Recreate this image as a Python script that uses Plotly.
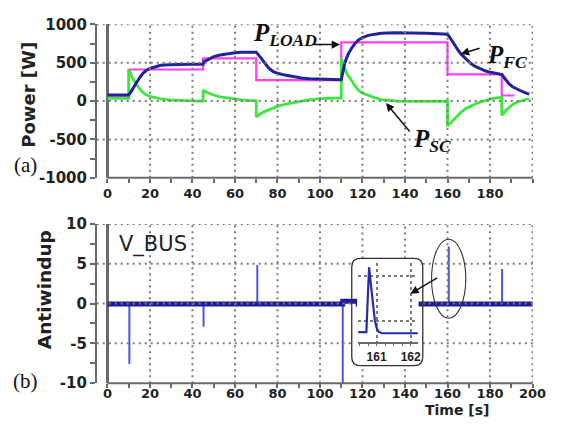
import plotly.graph_objects as go

# ---------------- data ----------------
fc_t = [0, 10, 11, 12, 13.3, 15, 16.7, 18, 20, 22, 25, 29, 33, 40, 45, 45.5, 47, 50, 53, 56.7,
        60, 63, 66.7, 70, 72, 73.5, 75.9, 78, 80, 83.5, 87, 91.2, 95, 98.9, 104, 110, 110.8,
        111.6, 112.5, 113.5, 115, 116.5, 118.1, 120, 122.7, 125.5, 128.8, 135, 144.2, 150,
        157.9, 160, 161, 162, 163.3, 164.8, 166.4, 168.5, 171, 173, 175.6, 178, 180.2, 182.5,
        184.8, 185.7, 186.5, 187.7, 189, 190.8, 193, 195.4, 197, 198.5]
fc_p = [79, 79, 120, 165, 237, 300, 362, 395, 425, 445, 467, 475, 479, 480, 480, 515, 535,
        579, 600, 620, 630, 636, 641, 638, 570, 510, 428, 385, 362, 339, 318, 302, 292, 286,
        280, 278, 380, 490, 560, 625, 694, 752, 796, 828, 857, 873, 885, 890, 890, 885, 873,
        870, 835, 790, 734, 670, 612, 550, 490, 452, 416, 392, 375, 363, 355, 345, 310, 265,
        225, 184, 150, 122, 104, 90]

load_t = [0, 10, 45, 70, 110, 160, 185.5, 191.5]
load_p = [70, 412, 558, 274, 765, 347, 73, 73]

sc_t = [0, 10, 10, 11, 12, 13.3, 15, 16.7, 18, 20, 22, 25, 29, 33, 40, 45, 45, 46.5, 48, 50,
        53, 56.7, 60, 63, 66.7, 70, 70, 71.5, 73.5, 75.9, 78, 80, 83.5, 87, 91.2, 95, 98.9,
        104, 110, 110, 111, 112, 113, 114, 116, 118, 120, 122.7, 125.5, 128.8, 132, 136.5,
        145, 152, 160, 160, 161.5, 163.3, 164.8, 166.4, 168.5, 171, 173, 175.6, 178, 180.2,
        182.5, 184.8, 185.5, 185.5, 186.5, 187.7, 189, 190.8, 193, 195.4, 197, 198.5]
sc_p = [35, 35, 412, 350, 290, 237, 165, 112, 85, 62, 45, 29, 15, 8, 3, 0, 141, 115, 95, 79,
        55, 37, 24, 15, 8, 4, -204, -175, -140, -114, -85, -68, -41, -20, 0, 15, 29, 37, 41,
        551, 470, 400, 340, 306, 220, 143, 105, 73, 45, 20, 8, 0, -3, -3, -2, -326, -280, -224,
        -180, -143, -100, -61, -38, -12, 10, 29, 40, 49, 49, -184, -160, -114, -80, -41, -12,
        8, 20, 33]

aw_spike_t = [10.3, 45.2, 70.5, 110.7, 160.6, 185.7]
aw_spike_v = [-7.6, -2.9, 4.85, -10, 7.15, 4.35]
aw_base_t = [0, 110.7, 110.7, 118, 118, 200]
aw_base_v = [-0.05, -0.05, 0.3, 0.3, -0.05, -0.05]

inset_t = [160.46, 160.70, 160.74, 160.78, 160.82, 160.86, 160.90, 160.95, 161.00, 161.05,
           161.15, 161.4, 161.8, 162.21]
inset_v = [0, 0, 3.0, 5.8, 4.6, 3.3, 2.0, 1.0, 0.4, 0.05, -0.1, -0.1, -0.1, -0.1]

x_ticks = [0, 20, 40, 60, 80, 100, 120, 140, 160, 180, 200]
top_x_labels = ['0', '20', '40', '60', '80', '100', '120', '140', '160', '180', '']
bot_x_labels = ['0', '20', '40', '60', '80', '100', '120', '140', '160', '180', '200']
top_y_ticks = [-1000, -500, 0, 500, 1000]
top_y_labels = ['-1000', '-500', '0', '500', '1000']
bot_y_ticks = [-10, -5, 0, 5, 10]
bot_y_labels = ['-10', '-5', '0', '5', '10']
inset_x_ticks = [161, 162]
inset_x_labels = ['161', '162']

# ---------------- layout helpers ----------------
W, H = 567, 444
def px(x):
    return x / W
def py(y):
    return 1 - y / H

GRID = '#7a7a7a'
AX = '#6a6a6a'
TXT = '#222222'
DOT = 'dot'

# panel geometry (pixels)
PL, PR = 99, 545.5            # plot area left/right
X0PX, XPXU = 110, 2.175       # pixel of t=0, pixels per second
TOP_T, TOP_B = 16, 176
BOT_T, BOT_B = 224, 390
BOX = (360, 432.7, 260, 371.7)  # inset box x0, x1, y0, y1

fig = go.Figure()

# top plot traces
fig.add_trace(go.Scatter(x=load_t, y=load_p, mode='lines', line=dict(color='#ff3cff', width=2.2, shape='hv'),
                         xaxis='x', yaxis='y', showlegend=False))
fig.add_trace(go.Scatter(x=sc_t, y=sc_p, mode='lines', line=dict(color='#3ce83c', width=2.8),
                         xaxis='x', yaxis='y', showlegend=False))
fig.add_trace(go.Scatter(x=fc_t, y=fc_p, mode='lines', line=dict(color='#22229a', width=3),
                         xaxis='x', yaxis='y', showlegend=False))

# bottom plot traces
sx, sy = [], []
for t, v in zip(aw_spike_t, aw_spike_v):
    sx += [t, t, None]
    sy += [0, v, None]
fig.add_trace(go.Scatter(x=sx, y=sy, mode='lines', line=dict(color='#4a58d6', width=2),
                         xaxis='x2', yaxis='y2', showlegend=False))
fig.add_trace(go.Scatter(x=aw_base_t, y=aw_base_v, mode='lines', line=dict(color='#1c1ca0', width=5),
                         xaxis='x2', yaxis='y2', showlegend=False))

# mask subplot (white background of inset box)
fig.add_trace(go.Scatter(x=[None], y=[None], mode='lines', xaxis='x3', yaxis='y3', showlegend=False))
# inset plot
fig.add_trace(go.Scatter(x=inset_t, y=inset_v, mode='lines', line=dict(color='#2a2aa8', width=2.2),
                         xaxis='x4', yaxis='y4', showlegend=False))

xdom = [px(PL), px(PR)]
xrng = [(PL - X0PX) / XPXU, (PR - X0PX) / XPXU]
tickfont_x = dict(family='DejaVu Sans', size=13, weight='bold', color=TXT)
tickfont_y = dict(family='DejaVu Sans', size=15, weight='bold', color=TXT)

common_x = dict(domain=xdom, range=xrng, tickmode='array', tickvals=x_ticks,
                ticks='outside', ticklen=4, tickwidth=1.5, tickcolor=AX,
                showgrid=False,
                zeroline=True, zerolinecolor=AX, zerolinewidth=2.5, showline=False,
                tickfont=tickfont_x,
                minor=dict(dtick=10, tick0=0, ticks='outside', ticklen=4, tickwidth=1.5, tickcolor=AX, showgrid=False))
common_y = dict(ticks='outside', ticklen=5, tickwidth=1.5, tickcolor=AX,
                showgrid=False,
                zeroline=False, showline=True, linecolor=AX, linewidth=1.5,
                tickfont=tickfont_y, tickmode='array')

fig.update_layout(
    width=W, height=H, autosize=False,
    margin=dict(l=0, r=0, t=0, b=0),
    paper_bgcolor='white', plot_bgcolor='white',
    font=dict(family='DejaVu Sans', color=TXT),
    xaxis=dict(common_x, anchor='y', ticktext=top_x_labels, ticklabelstandoff=0),
    yaxis=dict(common_y, domain=[py(TOP_B), py(TOP_T)], range=[-1000, 1000], anchor='x',
               tickvals=top_y_ticks, ticktext=top_y_labels,
               minor=dict(dtick=250, tick0=0, ticks='outside', ticklen=5,
                          tickwidth=1.5, tickcolor=AX, showgrid=False)),
    xaxis2=dict(common_x, anchor='y2', ticktext=bot_x_labels, ticklabelstandoff=-6),
    yaxis2=dict(common_y, domain=[py(BOT_B), py(BOT_T)], range=[-10, 10], anchor='x2',
                tickvals=bot_y_ticks, ticktext=bot_y_labels,
                minor=dict(dtick=2.5, tick0=0, ticks='outside', ticklen=5,
                           tickwidth=1.5, tickcolor=AX, showgrid=False)),
    xaxis3=dict(domain=[px(365.5), px(428)], range=[0, 1], visible=False, anchor='y3'),
    yaxis3=dict(domain=[py(370), py(262)], range=[0, 1], visible=False, anchor='x3'),
    xaxis4=dict(domain=[px(366.5), px(428.3)], range=[160.457, 162.229], anchor='y4',
                tickmode='array', tickvals=inset_x_ticks, ticktext=inset_x_labels,
                ticks='outside', ticklen=3, tickcolor=AX, tickwidth=1,
                showline=True, linecolor=AX, linewidth=1.5,
                showgrid=True, gridcolor=GRID, gridwidth=1.5, griddash=DOT, zeroline=False,
                tickfont=dict(family='Liberation Sans', size=12, weight='bold', color=TXT),
                minor=dict(dtick=0.25, tick0=161, ticks='outside', ticklen=3, tickcolor=AX, showgrid=False)),
    yaxis4=dict(domain=[py(346.7), py(265)], range=[-0.85, 6.15], anchor='x4',
                tickmode='array', tickvals=[1, 5], showticklabels=False, ticks='',
                showgrid=True, gridcolor=GRID, gridwidth=1.5, griddash=DOT, zeroline=False, showline=False),
)

shapes = []
# dotted grid lines of the two main panels at the axis tick values (kept off the inset box)
grid_line = dict(color=GRID, width=2, dash='2px,4px')
bx0, bx1, by0, by1 = BOX
box_t0, box_t1 = (bx0 - X0PX) / XPXU, (bx1 - X0PX) / XPXU
def xdomf(p):
    return (p - PL) / (PR - PL)
for xr, yr, yt, ptop, pbot, has_box in [('x', 'y', top_y_ticks, TOP_T, TOP_B, False),
                                        ('x2', 'y2', bot_y_ticks, BOT_T, BOT_B, True)]:
    def ydomf(p):
        return (pbot - p) / (pbot - ptop)
    for t in x_ticks[1:]:
        segs = [(0, 1)]
        if has_box and box_t0 < t < box_t1:
            segs = [(0, ydomf(by1)), (ydomf(by0), 1)]
        for a, b in segs:
            shapes.append(dict(type='line', xref=xr, yref=yr + ' domain', x0=t, x1=t, y0=a, y1=b,
                               line=grid_line, layer='above'))
    yr_lo, yr_hi = yt[0], yt[-1]
    for v in yt[1:]:
        vpx = pbot - (v - yr_lo) / (yr_hi - yr_lo) * (pbot - ptop)
        segs = [(0, 1)]
        if has_box and by0 < vpx < by1:
            segs = [(0, xdomf(bx0)), (xdomf(bx1), 1)]
        for a, b in segs:
            shapes.append(dict(type='line', xref=xr + ' domain', yref=yr, x0=a, x1=b, y0=v, y1=v,
                               line=grid_line, layer='above'))
# x axis base lines (from t=0 to t=200)
for xr, yr in [('x', 'y domain'), ('x2', 'y2 domain')]:
    shapes.append(dict(type='line', xref=xr, yref=yr, x0=x_ticks[0], x1=x_ticks[-1], y0=0, y1=0,
                       line=dict(color=AX, width=2), layer='above'))
# rounded inset box
x0, x1, y0, y1, r = bx0, bx1, by0, by1, 9
path = (f"M {px(x0 + r)},{py(y0)} L {px(x1 - r)},{py(y0)} Q {px(x1)},{py(y0)} {px(x1)},{py(y0 + r)} "
        f"L {px(x1)},{py(y1 - r)} Q {px(x1)},{py(y1)} {px(x1 - r)},{py(y1)} "
        f"L {px(x0 + r)},{py(y1)} Q {px(x0)},{py(y1)} {px(x0)},{py(y1 - r)} "
        f"L {px(x0)},{py(y0 + r)} Q {px(x0)},{py(y0)} {px(x0 + r)},{py(y0)} Z")
shapes.append(dict(type='path', xref='paper', yref='paper', path=path,
                   line=dict(color='#333333', width=1.3), layer='above'))
# ellipse
shapes.append(dict(type='circle', xref='paper', yref='paper', x0=px(441.7), x1=px(476.7),
                   y0=py(322.3), y1=py(240), line=dict(color='#333333', width=1.1), layer='above'))
fig.update_layout(shapes=shapes)

ann = []
def text(x, y, s, font, xanchor='center', yanchor='middle', angle=0):
    ann.append(dict(x=px(x), y=py(y), xref='paper', yref='paper', text=s, showarrow=False,
                    xanchor=xanchor, yanchor=yanchor, textangle=angle, font=font))
def arrow(hx, hy, tx, ty):
    ann.append(dict(x=px(hx), y=py(hy), xref='paper', yref='paper', text='', showarrow=True,
                    ax=tx - hx, ay=ty - hy, arrowhead=2, arrowsize=1.1, arrowwidth=1.5,
                    arrowcolor='#111111', standoff=0, startstandoff=0))

serif_bi = dict(family='Liberation Serif', size=25, weight='bold', style='italic', color='#111111')
text(257, 27, 'P<sub>LOAD</sub>', serif_bi, xanchor='left')
text(496, 49, 'P<sub>FC</sub>', serif_bi, xanchor='left')
text(421, 137, 'P<sub>SC</sub>', serif_bi, xanchor='left')
arrow(348, 37, 320, 37)
arrow(471.7, 46.7, 492, 40.7)
arrow(395, 98, 420, 128)
arrow(420, 296.7, 448.3, 280)

text(29, 89, 'Power [W]', dict(family='DejaVu Sans', size=18, weight='bold', color=TXT), angle=-90)
text(45, 292, 'Antiwindup', dict(family='DejaVu Sans', size=18.5, weight='bold', color=TXT), angle=-90)
text(468, 418, 'Time [s]', dict(family='DejaVu Sans', size=14, weight='bold', color=TXT))
text(157, 245, 'V_BUS', dict(family='DejaVu Sans', size=21, color=TXT))
text(26, 163, '(a)', dict(family='Liberation Serif', size=21, color='#111111'))
text(26.5, 388, '(b)', dict(family='Liberation Serif', size=21, color='#111111'))
fig.update_layout(annotations=ann)

fig.write_html('out.html', config={'displayModeBar': False},
               post_script="document.body.style.margin='0';document.body.style.overflow='hidden';")
